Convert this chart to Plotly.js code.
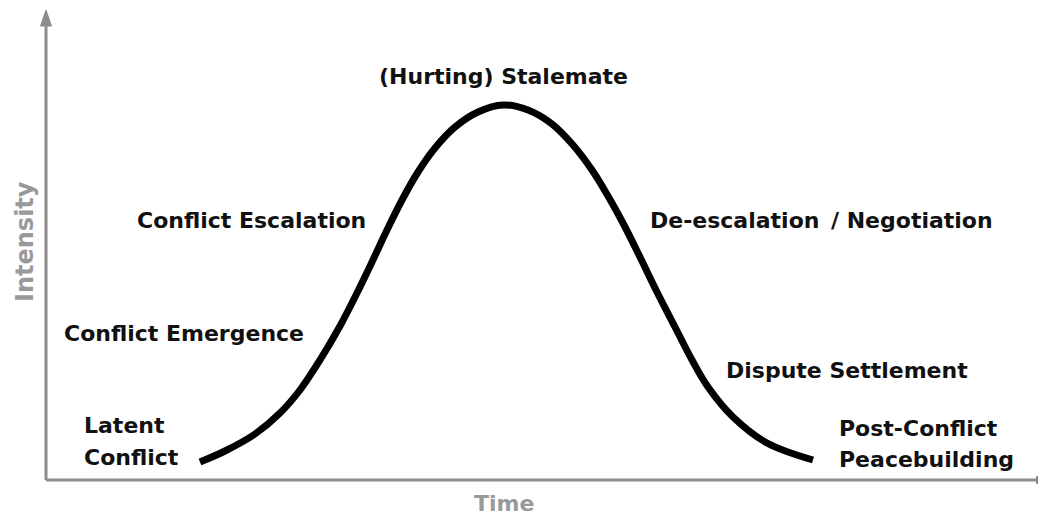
<!DOCTYPE html>
<html>
<head>
<meta charset="utf-8">
<script src="https://cdn.plot.ly/plotly-3.0.1.min.js"></script>
<style>html,body{margin:0;padding:0;background:#fff;}#chart{width:1038px;height:515px;}</style>
</head>
<body>
<div id="chart"></div>
<script>
// Curve: time (px from left), intensity (px up from the bottom edge)
const time = [200, 225, 255, 280, 300, 320, 340, 357, 372, 387, 402, 418, 435, 455, 478, 503, 528, 552, 573, 592, 608, 624, 640, 657, 675, 692, 708, 733, 767, 813];
const intensity = [53, 64, 81, 102, 125, 155, 189, 222, 253, 285, 315, 343, 367, 388, 403, 410, 405, 391, 370, 345, 319, 290, 258, 223, 188, 155, 128, 98, 72, 55];

// Stage labels (one entry per text line)
const stageText = ["(Hurting) Stalemate", "Conflict Escalation", "De-escalation", "/ Negotiation", "Conflict Emergence", "Dispute Settlement", "Latent", "Conflict", "Post-Conflict", "Peacebuilding"];
const stageX = [503, 251, 648, 995, 184, 847, 82, 82, 837, 837];
const stageY = [439, 295, 295, 295, 182, 145, 90, 58, 87, 56];
const stageAnchor = ["center", "center", "left", "right", "center", "center", "left", "left", "left", "left"];

const axisColor = "#8c8c8c";
const labelFont = {family: "DejaVu Sans", size: 22, color: "#111"};

const annotations = stageText.map((t, i) => ({
  text: "<b>" + t + "</b>", x: stageX[i], y: stageY[i], xref: "x", yref: "y",
  xanchor: stageAnchor[i], yanchor: "middle", showarrow: false, font: labelFont
}));
annotations.push({text: "<b>Time</b>", x: 504, y: 12, xref: "x", yref: "y", showarrow: false,
  font: {family: "DejaVu Sans", size: 22, color: "#999"}});
annotations.push({text: "<b>Intensity</b>", x: 25, y: 273, xref: "x", yref: "y", showarrow: false, textangle: -90,
  font: {family: "DejaVu Sans", size: 24, color: "#999"}});

const shapes = [
  {type: "line", x0: 46, x1: 46, y0: 35, y1: 492, line: {color: axisColor, width: 3}},
  {type: "line", x0: 46, x1: 1040, y0: 35, y1: 35, line: {color: axisColor, width: 3}},
  {type: "path", path: "M 40.5 489 L 46 505 L 51.5 489 Z", fillcolor: axisColor, line: {color: axisColor, width: 1}},
  {type: "line", x0: 1037, x1: 1037, y0: 31, y1: 39, line: {color: axisColor, width: 2}}
];

Plotly.newPlot("chart", [{
  x: time, y: intensity, type: "scatter", mode: "lines",
  line: {color: "#000", width: 7, shape: "spline", smoothing: 1}, hoverinfo: "skip"
}], {
  width: 1038, height: 515,
  margin: {l: 0, r: 0, t: 0, b: 0},
  paper_bgcolor: "#fff", plot_bgcolor: "#fff",
  showlegend: false,
  xaxis: {range: [0, 1038], visible: false, fixedrange: true},
  yaxis: {range: [0, 515], visible: false, fixedrange: true},
  shapes: shapes,
  annotations: annotations
}, {staticPlot: true});
</script>
</body>
</html>
